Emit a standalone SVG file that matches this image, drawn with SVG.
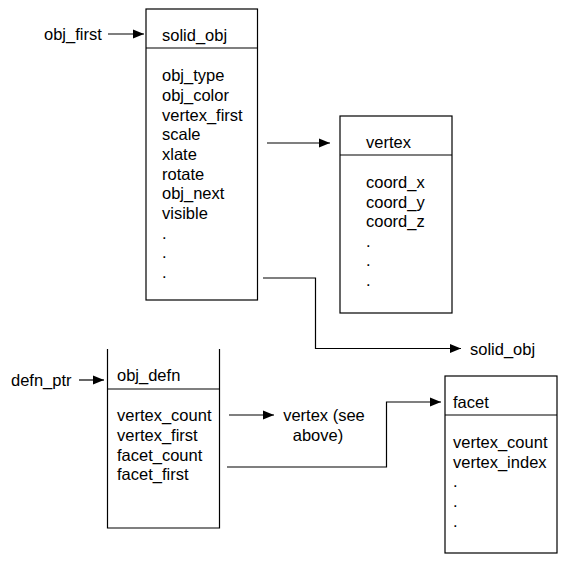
<svg xmlns="http://www.w3.org/2000/svg" width="570" height="563" viewBox="0 0 570 563">
<style>
text{font-family:"Liberation Sans",Arial,sans-serif;font-size:16.5px;fill:#000}
.box{fill:#fff;stroke:#000;stroke-width:1.2}
.ln{fill:none;stroke:#000;stroke-width:1.2}
</style>
<defs>
<marker id="ah" markerUnits="userSpaceOnUse" markerWidth="12" markerHeight="10" refX="11" refY="5" orient="auto">
<path d="M0,0.5 L11,5 L0,9.5 Z" fill="#000"/>
</marker>
</defs>
<g id="connectors">
<line class="ln" x1="108" y1="34" x2="144" y2="34" marker-end="url(#ah)"/>
<line class="ln" x1="267" y1="143" x2="330" y2="143" marker-end="url(#ah)"/>
<polyline class="ln" points="263,278 315.5,278 315.5,348.5 461,348.5" marker-end="url(#ah)"/>
<line class="ln" x1="79" y1="380" x2="104" y2="380" marker-end="url(#ah)"/>
<line class="ln" x1="229" y1="415" x2="274" y2="415" marker-end="url(#ah)"/>
<polyline class="ln" points="227,467 386.5,467 386.5,402 441,402" marker-end="url(#ah)"/>
</g>
<g id="label-obj_first"><text x="44" y="40">obj_first</text></g>
<g id="label-solid_obj-ref"><text x="470" y="355">solid_obj</text></g>
<g id="label-defn_ptr"><text x="11" y="386">defn_ptr</text></g>
<g id="label-vertex-see"><text x="324" y="421" text-anchor="middle">vertex (see</text><text x="318" y="441" text-anchor="middle">above)</text></g>
<g id="solid_obj">
<rect class="box" x="146" y="9" width="111.5" height="291"/>
<line class="ln" x1="146" y1="48" x2="257.5" y2="48"/>
<text x="162" y="41">solid_obj</text>
<text x="162" y="81">obj_type</text>
<text x="162" y="101">obj_color</text>
<text x="162" y="120.5">vertex_first</text>
<text x="162" y="140">scale</text>
<text x="162" y="160">xlate</text>
<text x="162" y="179.5">rotate</text>
<text x="162" y="199">obj_next</text>
<text x="162" y="219">visible</text>
<text x="162" y="238.5">.</text>
<text x="162" y="258">.</text>
<text x="162" y="278">.</text>
</g>
<g id="vertex">
<rect class="box" x="340" y="116" width="112" height="197"/>
<line class="ln" x1="340" y1="155" x2="452" y2="155"/>
<text x="366" y="148">vertex</text>
<text x="366" y="188">coord_x</text>
<text x="366" y="207.5">coord_y</text>
<text x="366" y="227">coord_z</text>
<text x="366" y="247">.</text>
<text x="366" y="266">.</text>
<text x="366" y="286">.</text>
</g>
<g id="obj_defn">
<path class="box" d="M107.5,349 V528 H219.5 V349"/>
<line class="ln" x1="107.5" y1="389" x2="219.5" y2="389"/>
<text x="117" y="381">obj_defn</text>
<text x="117" y="421">vertex_count</text>
<text x="117" y="441">vertex_first</text>
<text x="117" y="460.5">facet_count</text>
<text x="117" y="480">facet_first</text>
</g>
<g id="facet">
<rect class="box" x="445" y="376" width="112" height="177"/>
<line class="ln" x1="445" y1="415" x2="557" y2="415"/>
<text x="453" y="408">facet</text>
<text x="453" y="448">vertex_count</text>
<text x="453" y="467.5">vertex_index</text>
<text x="453" y="487">.</text>
<text x="453" y="507">.</text>
<text x="453" y="526.5">.</text>
</g>
</svg>
